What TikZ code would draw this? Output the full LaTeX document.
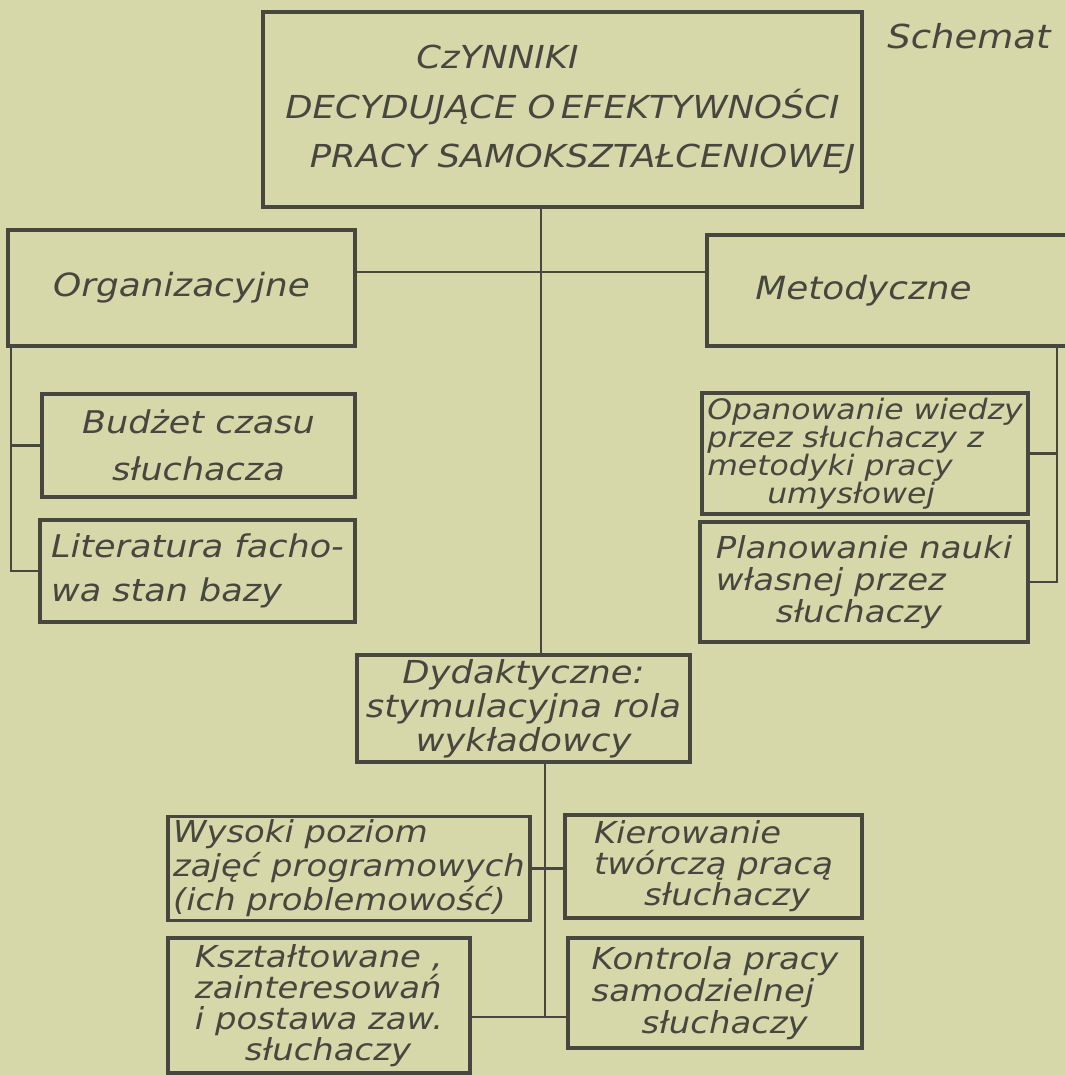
\documentclass[tikz,border=0pt]{standalone}
\usepackage{fontspec}
\setmainfont{DejaVu Sans}[FakeStretch=1.12]
\usepackage{xcolor}
\usetikzlibrary{positioning}
\definecolor{paper}{HTML}{D7D8AA}
\definecolor{ink}{HTML}{47473F}
\tikzset{
  headbox/.style={draw=ink,line width=1pt,text=ink,align=center,
                  font=\fontsize{9}{14}\selectfont\itshape,inner sep=2pt},
  groupbox/.style={draw=ink,line width=1pt,text=ink,align=center,
                   font=\fontsize{9.1}{12}\selectfont\itshape,inner sep=2pt},
  itembox/.style={draw=ink,line width=0.9pt,text=ink,align=left,
                  font=\fontsize{8.6}{8.8}\selectfont\itshape,inner sep=1pt},
  tallitem/.style={itembox,font=\fontsize{8.9}{13.2}\selectfont\itshape},
  link/.style={draw=ink,line width=0.7pt}
}

\begin{document}
\begin{tikzpicture}[x=0.1mm,y=-0.1mm]
  \fill[paper] (0,0) rectangle (1065,1075);
  \useasboundingbox (0,0) rectangle (1065,1075);

  % top of the scheme
  \node[headbox,minimum width=58.5mm,minimum height=19.5mm] (top) at (562.5,109.5)
    {CzYNNIKI\hspace*{13mm}\\ DECYDUJĄCE O\,EFEKTYWNOŚCI\\ \hspace*{4mm}PRACY SAMOKSZTAŁCENIOWEJ};
  \node[anchor=east,text=ink,font=\fontsize{9.4}{11}\selectfont\itshape] (schemat) at (1063,36) {Schemat};

  % three groups
  \node[groupbox,minimum width=34.7mm,minimum height=11.6mm] (org) at (181.5,288) {Organizacyjne};
  \node[groupbox,minimum width=36.3mm,minimum height=11.1mm] (met) at (888.5,290.5) {Metodyczne\hspace*{5mm}};
  \node[itembox,align=center,minimum width=33.3mm,minimum height=10.7mm,
        font=\fontsize{9}{7.9}\selectfont\itshape] (dyd) at (523.5,708.5)
    {Dydaktyczne:\\ stymulacyjna rola\\ wykładowcy};

  % organizacyjne
  \node[tallitem,align=center,minimum width=31.3mm,minimum height=10.3mm] (bud) at (198.5,445.5)
    {Budżet czasu\\ słuchacza};
  \node[tallitem,minimum width=31.5mm,minimum height=10.2mm,
        font=\fontsize{8.9}{12.6}\selectfont\itshape] (lit) at (197.5,571)
    {Literatura facho-\\wa stan bazy};

  % metodyczne
  \node[itembox,minimum width=32.6mm,minimum height=12.1mm,
        font=\fontsize{8}{8}\selectfont\itshape] (opa) at (865,453.5)
    {Opanowanie wiedzy\\ przez słuchaczy z\\ metodyki pracy\\ \hspace*{6mm}umysłowej};
  \node[itembox,minimum width=32.8mm,minimum height=12mm,
        font=\fontsize{8.6}{9.2}\selectfont\itshape] (pla) at (864,582)
    {Planowanie nauki\\ własnej przez\\ \hspace*{6mm}słuchaczy};

  % dydaktyczne
  \node[itembox,minimum width=36.2mm,minimum height=10.3mm,
        font=\fontsize{8.6}{8.3}\selectfont\itshape] (wys) at (349,868.5)
    {Wysoki poziom\\ zajęć programowych\\ (ich problemowość)};
  \node[itembox,minimum width=29.7mm,minimum height=10.3mm] (kie) at (713.5,866.5)
    {Kierowanie\\ twórczą pracą\\ \hspace*{5mm}słuchaczy};
  \node[itembox,minimum width=30.2mm,minimum height=13.5mm] (ksz) at (319,1005.5)
    {Kształtowane ,\\ zainteresowań\\ i postawa zaw.\\ \hspace*{5mm}słuchaczy};
  \node[itembox,minimum width=29.4mm,minimum height=11mm,
        font=\fontsize{8.6}{9.2}\selectfont\itshape] (kon) at (715,993)
    {Kontrola pracy\\ samodzielnej\\ \hspace*{5mm}słuchaczy};

  % connectors
  \coordinate (trunk) at (541,272);
  \coordinate (lrail) at (11,0);
  \coordinate (rrail) at (1057,0);
  \coordinate (stem) at (545,1017);

  \draw[link] (top.south -| trunk) -- (dyd.north -| trunk);
  \draw[link] (org.east |- trunk) -- (met.west |- trunk);
  \draw[link] (org.south -| lrail) -- (lit.west -| lrail) -- (lit.west);
  \draw[link] (bud.west -| lrail) -- (bud.west);
  \draw[link] (met.south -| rrail) -- (pla.east -| rrail) -- (pla.east);
  \draw[link] (opa.east) -- (opa.east -| rrail);
  \draw[link] (dyd.south -| stem) -- (stem);
  \draw[link] (wys.east) -- (wys.east -| kie.west);
  \draw[link] (ksz.east |- stem) -- (kon.west |- stem);
\end{tikzpicture}
\end{document}
